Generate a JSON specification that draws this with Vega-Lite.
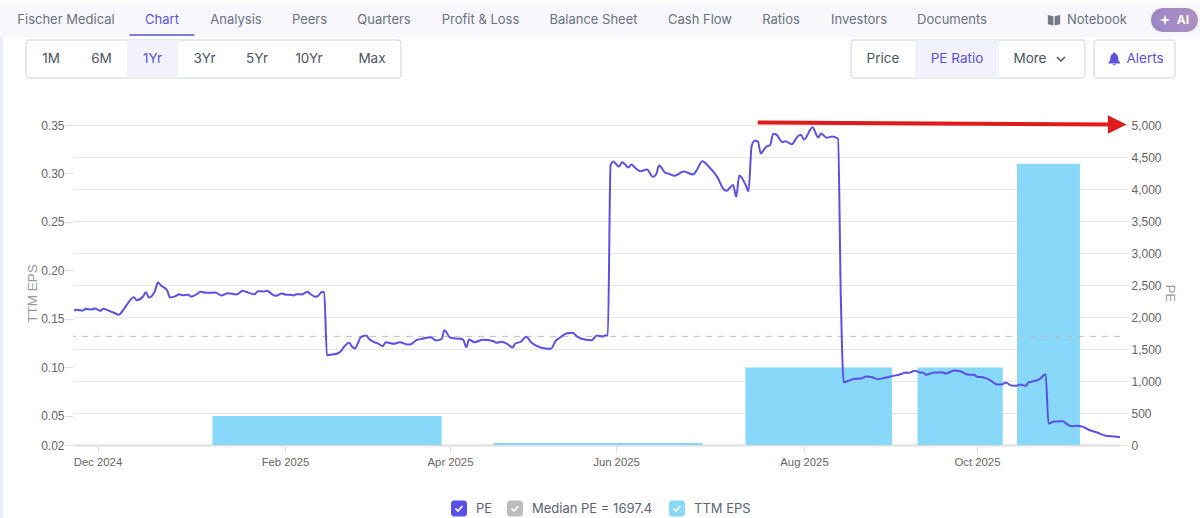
{
  "$schema": "https://vega.github.io/schema/vega-lite/v6.json",
  "width": 1047,
  "height": 320,
  "autosize": "none",
  "padding": {"left": 73, "top": 125, "right": 80, "bottom": 73},
  "background": "white",
  "config": {"view": {"stroke": null}, "text": {"font": "Inter"}},
  "datasets": {
    "pe": [
      {"date":"2024-11-23","pe":2102},{"date":"2024-11-24","pe":2112},{"date":"2024-11-26","pe":2102},{"date":"2024-11-27","pe":2128},{"date":"2024-11-29","pe":2117},{"date":"2024-11-30","pe":2133},{"date":"2024-12-02","pe":2097},{"date":"2024-12-03","pe":2128},{"date":"2024-12-05","pe":2091},{"date":"2024-12-07","pe":2055},{"date":"2024-12-08","pe":2034},{"date":"2024-12-10","pe":2144},{"date":"2024-12-13","pe":2309},{"date":"2024-12-14","pe":2263},{"date":"2024-12-16","pe":2316},{"date":"2024-12-17","pe":2388},{"date":"2024-12-18","pe":2305},{"date":"2024-12-20","pe":2409},{"date":"2024-12-21","pe":2539},{"date":"2024-12-22","pe":2492},{"date":"2024-12-24","pe":2419},{"date":"2024-12-25","pe":2305},{"date":"2024-12-27","pe":2331},{"date":"2024-12-28","pe":2356},{"date":"2024-12-29","pe":2341},{"date":"2024-12-31","pe":2347},
      {"date":"2025-01-01","pe":2320},{"date":"2025-01-03","pe":2363},{"date":"2025-01-04","pe":2394},{"date":"2025-01-06","pe":2378},{"date":"2025-01-07","pe":2378},{"date":"2025-01-09","pe":2383},{"date":"2025-01-11","pe":2336},{"date":"2025-01-13","pe":2372},{"date":"2025-01-16","pe":2352},{"date":"2025-01-18","pe":2409},{"date":"2025-01-19","pe":2394},{"date":"2025-01-22","pe":2356},{"date":"2025-01-23","pe":2403},{"date":"2025-01-25","pe":2398},{"date":"2025-01-26","pe":2409},{"date":"2025-01-28","pe":2347},{"date":"2025-01-29","pe":2331},{"date":"2025-01-31","pe":2367},
      {"date":"2025-02-01","pe":2352},{"date":"2025-02-03","pe":2347},{"date":"2025-02-04","pe":2336},{"date":"2025-02-05","pe":2356},{"date":"2025-02-07","pe":2352},{"date":"2025-02-09","pe":2394},{"date":"2025-02-10","pe":2363},{"date":"2025-02-12","pe":2316},{"date":"2025-02-13","pe":2336},{"date":"2025-02-14","pe":2388},{"date":"2025-02-15","pe":2394},{"date":"2025-02-16","pe":1403},{"date":"2025-02-18","pe":1414},{"date":"2025-02-20","pe":1434},{"date":"2025-02-21","pe":1466},{"date":"2025-02-22","pe":1528},{"date":"2025-02-24","pe":1597},{"date":"2025-02-25","pe":1534},{"date":"2025-02-26","pe":1508},{"date":"2025-02-27","pe":1581},{"date":"2025-02-28","pe":1680},
      {"date":"2025-03-02","pe":1711},{"date":"2025-03-03","pe":1659},{"date":"2025-03-05","pe":1606},{"date":"2025-03-06","pe":1591},{"date":"2025-03-08","pe":1544},{"date":"2025-03-09","pe":1606},{"date":"2025-03-12","pe":1581},{"date":"2025-03-14","pe":1606},{"date":"2025-03-17","pe":1570},{"date":"2025-03-18","pe":1575},{"date":"2025-03-20","pe":1638},{"date":"2025-03-22","pe":1659},{"date":"2025-03-25","pe":1684},{"date":"2025-03-27","pe":1633},{"date":"2025-03-29","pe":1659},{"date":"2025-03-30","pe":1794},
      {"date":"2025-04-01","pe":1680},{"date":"2025-04-03","pe":1664},{"date":"2025-04-05","pe":1659},{"date":"2025-04-06","pe":1633},{"date":"2025-04-07","pe":1528},{"date":"2025-04-08","pe":1648},{"date":"2025-04-10","pe":1606},{"date":"2025-04-13","pe":1644},{"date":"2025-04-17","pe":1622},{"date":"2025-04-18","pe":1597},{"date":"2025-04-20","pe":1613},{"date":"2025-04-22","pe":1581},{"date":"2025-04-24","pe":1523},{"date":"2025-04-25","pe":1586},{"date":"2025-04-27","pe":1613},{"date":"2025-04-29","pe":1691},
      {"date":"2025-05-01","pe":1597},{"date":"2025-05-04","pe":1528},{"date":"2025-05-06","pe":1508},{"date":"2025-05-08","pe":1503},{"date":"2025-05-10","pe":1638},{"date":"2025-05-11","pe":1664},{"date":"2025-05-14","pe":1747},{"date":"2025-05-16","pe":1753},{"date":"2025-05-18","pe":1684},{"date":"2025-05-21","pe":1644},{"date":"2025-05-23","pe":1638},{"date":"2025-05-25","pe":1711},{"date":"2025-05-27","pe":1695},{"date":"2025-05-28","pe":1711},{"date":"2025-05-29","pe":1711},{"date":"2025-05-30","pe":4367},{"date":"2025-05-31","pe":4430},
      {"date":"2025-06-01","pe":4390},{"date":"2025-06-02","pe":4352},{"date":"2025-06-03","pe":4419},{"date":"2025-06-04","pe":4383},{"date":"2025-06-05","pe":4336},{"date":"2025-06-06","pe":4383},{"date":"2025-06-07","pe":4341},{"date":"2025-06-09","pe":4278},{"date":"2025-06-11","pe":4305},{"date":"2025-06-13","pe":4191},{"date":"2025-06-14","pe":4227},{"date":"2025-06-15","pe":4367},{"date":"2025-06-17","pe":4253},{"date":"2025-06-18","pe":4242},{"date":"2025-06-20","pe":4206},{"date":"2025-06-23","pe":4273},{"date":"2025-06-26","pe":4227},{"date":"2025-06-27","pe":4278},{"date":"2025-06-29","pe":4434},
      {"date":"2025-07-01","pe":4356},{"date":"2025-07-04","pe":4175},{"date":"2025-07-06","pe":3992},{"date":"2025-07-07","pe":3972},{"date":"2025-07-08","pe":4023},{"date":"2025-07-09","pe":4063},{"date":"2025-07-10","pe":3878},{"date":"2025-07-11","pe":4211},{"date":"2025-07-13","pe":4070},{"date":"2025-07-14","pe":3966},{"date":"2025-07-15","pe":4669},{"date":"2025-07-16","pe":4753},{"date":"2025-07-17","pe":4747},{"date":"2025-07-18","pe":4555},{"date":"2025-07-19","pe":4617},{"date":"2025-07-20","pe":4669},{"date":"2025-07-21","pe":4684},{"date":"2025-07-22","pe":4863},{"date":"2025-07-23","pe":4852},{"date":"2025-07-25","pe":4731},{"date":"2025-07-26","pe":4747},{"date":"2025-07-28","pe":4700},{"date":"2025-07-30","pe":4825},{"date":"2025-07-31","pe":4847},
      {"date":"2025-08-01","pe":4773},{"date":"2025-08-04","pe":4966},{"date":"2025-08-06","pe":4805},{"date":"2025-08-07","pe":4867},{"date":"2025-08-09","pe":4800},{"date":"2025-08-11","pe":4820},{"date":"2025-08-13","pe":4784},{"date":"2025-08-14","pe":2273},{"date":"2025-08-15","pe":981},{"date":"2025-08-17","pe":1008},{"date":"2025-08-19","pe":1034},{"date":"2025-08-21","pe":1039},{"date":"2025-08-23","pe":1070},{"date":"2025-08-25","pe":1059},{"date":"2025-08-27","pe":1028},{"date":"2025-08-30","pe":1055},
      {"date":"2025-09-01","pe":1075},{"date":"2025-09-04","pe":1106},{"date":"2025-09-06","pe":1133},{"date":"2025-09-07","pe":1128},{"date":"2025-09-09","pe":1159},{"date":"2025-09-11","pe":1133},{"date":"2025-09-12","pe":1133},{"date":"2025-09-13","pe":1097},{"date":"2025-09-16","pe":1133},{"date":"2025-09-19","pe":1133},{"date":"2025-09-20","pe":1117},{"date":"2025-09-23","pe":1164},{"date":"2025-09-25","pe":1153},{"date":"2025-09-28","pe":1097},{"date":"2025-09-30","pe":1097},
      {"date":"2025-10-01","pe":1066},{"date":"2025-10-03","pe":1059},{"date":"2025-10-06","pe":1003},{"date":"2025-10-08","pe":945},{"date":"2025-10-10","pe":950},{"date":"2025-10-11","pe":977},{"date":"2025-10-13","pe":930},{"date":"2025-10-15","pe":925},{"date":"2025-10-16","pe":945},{"date":"2025-10-18","pe":925},{"date":"2025-10-19","pe":977},{"date":"2025-10-20","pe":988},{"date":"2025-10-23","pe":1034},{"date":"2025-10-25","pe":1106},{"date":"2025-10-26","pe":336},{"date":"2025-10-28","pe":367},{"date":"2025-10-31","pe":372},
      {"date":"2025-11-01","pe":341},{"date":"2025-11-03","pe":294},{"date":"2025-11-05","pe":300},{"date":"2025-11-07","pe":284},{"date":"2025-11-09","pe":238},{"date":"2025-11-12","pe":195},{"date":"2025-11-15","pe":144},{"date":"2025-11-18","pe":133},{"date":"2025-11-20","pe":122}
    ],
    "eps": [
      {"start":"2025-01-08","end":"2025-03-29","eps":0.05},
      {"start":"2025-04-17","end":"2025-06-29","eps":0.022},
      {"start":"2025-07-13","end":"2025-09-01","eps":0.10},
      {"start":"2025-09-10","end":"2025-10-10","eps":0.10},
      {"start":"2025-10-15","end":"2025-11-06","eps":0.31}
    ],
    "arrow": [
      {"date":"2025-07-17","pe":5040},
      {"date":"2025-11-17","pe":5008}
    ],
    "tabs": [
      {"label":"Fischer Medical","order":0,"state":"normal"},
      {"label":"Chart","order":1,"state":"active"},
      {"label":"Analysis","order":2,"state":"normal"},
      {"label":"Peers","order":3,"state":"normal"},
      {"label":"Quarters","order":4,"state":"normal"},
      {"label":"Profit & Loss","order":5,"state":"normal"},
      {"label":"Balance Sheet","order":6,"state":"normal"},
      {"label":"Cash Flow","order":7,"state":"normal"},
      {"label":"Ratios","order":8,"state":"normal"},
      {"label":"Investors","order":9,"state":"normal"},
      {"label":"Documents","order":10,"state":"normal"},
      {"label":"Notebook","order":12,"state":"normal"}
    ],
    "page": [
      {"part":"nav bar","from":0,"to":1,"top":0,"bottom":4},
      {"part":"left strip","from":0,"to":0.0025,"top":4,"bottom":11}
    ],
    "selectors": [
      {"part":"range","from":0,"to":7},
      {"part":"series","from":8,"to":11},
      {"part":"alerts","from":12,"to":13}
    ],
    "selected": [
      {"part":"1Yr","from":2,"to":3},
      {"part":"PE Ratio","from":9,"to":10}
    ],
    "buttons": [
      {"label":"1M","slot":0.5,"state":"normal"},
      {"label":"6M","slot":1.5,"state":"normal"},
      {"label":"1Yr","slot":2.5,"state":"active"},
      {"label":"3Yr","slot":3.5,"state":"normal"},
      {"label":"5Yr","slot":4.5,"state":"normal"},
      {"label":"10Yr","slot":5.5,"state":"normal"},
      {"label":"Max","slot":6.56,"state":"normal"},
      {"label":"Price","slot":8.5,"state":"normal"},
      {"label":"PE Ratio","slot":9.5,"state":"active"},
      {"label":"More","slot":10.36,"state":"normal"},
      {"label":"Alerts","slot":12.63,"state":"active"}
    ],
    "legend": [
      {"item":"PE","box":0,"text":1},
      {"item":"Median PE = 1697.4","box":2,"text":3},
      {"item":"TTM EPS","box":4,"text":5}
    ]
  },
  "layer": [
    {
      "data": {"name": "page"},
      "mark": {"type": "rect", "color": "#f7f7fc"},
      "encoding": {
        "x": {"field": "from", "type": "quantitative", "axis": null, "scale": {"domain": [0, 1], "range": [-73, 1127]}},
        "x2": {"field": "to"},
        "y": {"field": "top", "type": "quantitative", "axis": null, "scale": {"domain": [0,1,2,3,4,5,6,7,8,9,10,11], "range": [-122,-117,-105,-93,-88,-85,-66,-47,375,383.5,392,393]}},
        "y2": {"field": "bottom"},
        "fill": {"field": "part", "type": "nominal", "legend": null, "scale": {"domain": ["nav bar", "left strip"], "range": ["#f7f7fc", "#e8eefa"]}}
      }
    },
    {
      "data": {"name": "selectors"},
      "mark": {"type": "rect", "fill": "white", "stroke": "#cdd2da", "strokeWidth": 1, "cornerRadius": 3},
      "encoding": {
        "x": {"field": "from", "type": "quantitative", "axis": null, "scale": {"domain": [0,1,2,3,4,5,6,7,8,9,10,11,12,13], "range": [-47,3,54,105,158,210,262,328,778,842,926,1012,1021,1102]}},
        "x2": {"field": "to"},
        "y": {"datum": 5, "type": "quantitative", "axis": null, "scale": {"domain": [0,1,2,3,4,5,6,7,8,9,10,11], "range": [-122,-117,-105,-93,-88,-85,-66,-47,375,383.5,392,393]}},
        "y2": {"datum": 7}
      }
    },
    {
      "data": {"name": "selected"},
      "mark": {"type": "rect", "fill": "#f1f2fb"},
      "encoding": {
        "x": {"field": "from", "type": "quantitative", "axis": null, "scale": {"domain": [0,1,2,3,4,5,6,7,8,9,10,11,12,13], "range": [-47,3,54,105,158,210,262,328,778,842,926,1012,1021,1102]}},
        "x2": {"field": "to"},
        "y": {"datum": 5, "type": "quantitative", "axis": null, "scale": {"domain": [0,1,2,3,4,5,6,7,8,9,10,11], "range": [-122,-117,-105,-93,-88,-85,-66,-47,375,383.5,392,393]}},
        "y2": {"datum": 7}
      }
    },
    {
      "data": {"name": "buttons"},
      "mark": {"type": "text", "font": "Inter", "fontSize": 13.5, "baseline": "middle"},
      "encoding": {
        "x": {"field": "slot", "type": "quantitative", "axis": null, "scale": {"domain": [0,1,2,3,4,5,6,7,8,9,10,11,12,13], "range": [-47,3,54,105,158,210,262,328,778,842,926,1012,1021,1102]}},
        "y": {"datum": 6, "type": "quantitative", "axis": null, "scale": {"domain": [0,1,2,3,4,5,6,7,8,9,10,11], "range": [-122,-117,-105,-93,-88,-85,-66,-47,375,383.5,392,393]}},
        "text": {"field": "label"},
        "color": {"field": "state", "type": "nominal", "legend": null, "scale": {"domain": ["normal", "active"], "range": ["#4b5563", "#5b52e0"]}}
      }
    },
    {
      "data": {"values": [{"icon": "chevron", "slot": 10.72}]},
      "mark": {"type": "point", "shape": "M-0.8,-0.4 L0,0.4 L0.8,-0.4", "filled": false, "stroke": "#4b5563", "strokeWidth": 1.5, "size": 100, "opacity": 1},
      "encoding": {
        "x": {"field": "slot", "type": "quantitative", "axis": null, "scale": {"domain": [0,1,2,3,4,5,6,7,8,9,10,11,12,13], "range": [-47,3,54,105,158,210,262,328,778,842,926,1012,1021,1102]}},
        "y": {"datum": 6, "type": "quantitative", "axis": null, "scale": {"domain": [0,1,2,3,4,5,6,7,8,9,10,11], "range": [-122,-117,-105,-93,-88,-85,-66,-47,375,383.5,392,393]}}
      }
    },
    {
      "data": {"values": [{"icon": "bell", "slot": 12.25}]},
      "mark": {"type": "point", "shape": "M0,-1 C0.15,-1 0.2,-0.9 0.2,-0.8 C0.5,-0.7 0.6,-0.4 0.6,-0.1 C0.6,0.2 0.7,0.4 0.9,0.55 L0.9,0.7 L-0.9,0.7 L-0.9,0.55 C-0.7,0.4 -0.6,0.2 -0.6,-0.1 C-0.6,-0.4 -0.5,-0.7 -0.2,-0.8 C-0.2,-0.9 -0.15,-1 0,-1 Z M-0.25,0.8 L0.25,0.8 C0.2,1 -0.2,1 -0.25,0.8 Z", "filled": true, "fill": "#5b52e0", "size": 170, "opacity": 1},
      "encoding": {
        "x": {"field": "slot", "type": "quantitative", "axis": null, "scale": {"domain": [0,1,2,3,4,5,6,7,8,9,10,11,12,13], "range": [-47,3,54,105,158,210,262,328,778,842,926,1012,1021,1102]}},
        "y": {"datum": 6, "type": "quantitative", "axis": null, "scale": {"domain": [0,1,2,3,4,5,6,7,8,9,10,11], "range": [-122,-117,-105,-93,-88,-85,-66,-47,375,383.5,392,393]}}
      }
    },
    {
      "data": {"name": "tabs"},
      "mark": {"type": "text", "font": "Inter", "fontSize": 13, "baseline": "middle"},
      "encoding": {
        "x": {"field": "order", "type": "quantitative", "axis": null, "scale": {"domain": [0,1,2,3,4,5,6,7,8,9,10,11,12,13,14,15], "range": [-7,89,163,236.5,311,407.5,520.5,627,708,786,879,981,1024,1092,1101.5,1110]}},
        "y": {"datum": 2, "type": "quantitative", "axis": null, "scale": {"domain": [0,1,2,3,4,5,6,7,8,9,10,11], "range": [-122,-117,-105,-93,-88,-85,-66,-47,375,383.5,392,393]}},
        "text": {"field": "label"},
        "color": {"field": "state", "type": "nominal", "legend": null, "scale": {"domain": ["normal", "active"], "range": ["#6b7280", "#5b52e0"]}}
      }
    },
    {
      "data": {"values": [{"tab": "Chart", "order": 1}]},
      "mark": {"type": "rect", "width": 65, "height": 1.6, "color": "#5b52e0", "yOffset": -2},
      "encoding": {
        "x": {"field": "order", "type": "quantitative", "axis": null, "scale": {"domain": [0,1,2,3,4,5,6,7,8,9,10,11,12,13,14,15], "range": [-7,89,163,236.5,311,407.5,520.5,627,708,786,879,981,1024,1092,1101.5,1110]}},
        "y": {"datum": 4, "type": "quantitative", "axis": null, "scale": {"domain": [0,1,2,3,4,5,6,7,8,9,10,11], "range": [-122,-117,-105,-93,-88,-85,-66,-47,375,383.5,392,393]}}
      }
    },
    {
      "data": {"values": [{"icon": "book", "order": 11}]},
      "mark": {"type": "point", "shape": "M-1,-0.8 L-0.1,-0.6 L-0.1,0.9 L-1,0.7 Z M1,-0.8 L0.1,-0.6 L0.1,0.9 L1,0.7 Z", "filled": true, "fill": "#777b85", "size": 150, "opacity": 1},
      "encoding": {
        "x": {"field": "order", "type": "quantitative", "axis": null, "scale": {"domain": [0,1,2,3,4,5,6,7,8,9,10,11,12,13,14,15], "range": [-7,89,163,236.5,311,407.5,520.5,627,708,786,879,981,1024,1092,1101.5,1110]}},
        "y": {"datum": 2, "type": "quantitative", "axis": null, "scale": {"domain": [0,1,2,3,4,5,6,7,8,9,10,11], "range": [-122,-117,-105,-93,-88,-85,-66,-47,375,383.5,392,393]}}
      }
    },
    {
      "data": {"values": [{"part": "AI pill", "order": 14}]},
      "mark": {"type": "rect", "width": 47, "height": 24, "cornerRadius": 12, "color": {"gradient": "linear", "x1": 0, "x2": 1, "y1": 0, "y2": 0, "stops": [{"offset": 0, "color": "#9b86c6"}, {"offset": 1, "color": "#ad90bf"}]}},
      "encoding": {
        "x": {"field": "order", "type": "quantitative", "axis": null, "scale": {"domain": [0,1,2,3,4,5,6,7,8,9,10,11,12,13,14,15], "range": [-7,89,163,236.5,311,407.5,520.5,627,708,786,879,981,1024,1092,1101.5,1110]}},
        "y": {"datum": 2, "type": "quantitative", "axis": null, "scale": {"domain": [0,1,2,3,4,5,6,7,8,9,10,11], "range": [-122,-117,-105,-93,-88,-85,-66,-47,375,383.5,392,393]}}
      }
    },
    {
      "data": {"values": [{"icon": "spark", "order": 13}]},
      "mark": {"type": "point", "shape": "M0,-1 L0.25,-0.25 L1,0 L0.25,0.25 L0,1 L-0.25,0.25 L-1,0 L-0.25,-0.25 Z", "filled": true, "fill": "white", "size": 110, "opacity": 1},
      "encoding": {
        "x": {"field": "order", "type": "quantitative", "axis": null, "scale": {"domain": [0,1,2,3,4,5,6,7,8,9,10,11,12,13,14,15], "range": [-7,89,163,236.5,311,407.5,520.5,627,708,786,879,981,1024,1092,1101.5,1110]}},
        "y": {"datum": 2, "type": "quantitative", "axis": null, "scale": {"domain": [0,1,2,3,4,5,6,7,8,9,10,11], "range": [-122,-117,-105,-93,-88,-85,-66,-47,375,383.5,392,393]}}
      }
    },
    {
      "data": {"values": [{"label": "AI", "order": 15}]},
      "mark": {"type": "text", "font": "Inter", "fontSize": 12, "fontWeight": "bold", "color": "white", "baseline": "middle"},
      "encoding": {
        "x": {"field": "order", "type": "quantitative", "axis": null, "scale": {"domain": [0,1,2,3,4,5,6,7,8,9,10,11,12,13,14,15], "range": [-7,89,163,236.5,311,407.5,520.5,627,708,786,879,981,1024,1092,1101.5,1110]}},
        "y": {"datum": 2, "type": "quantitative", "axis": null, "scale": {"domain": [0,1,2,3,4,5,6,7,8,9,10,11], "range": [-122,-117,-105,-93,-88,-85,-66,-47,375,383.5,392,393]}},
        "text": {"field": "label"}
      }
    },
    {
      "data": {"name": "eps"},
      "mark": {"type": "rect", "color": "#87d8f9"},
      "encoding": {
        "x": {
          "field": "start", "type": "temporal",
          "axis": {
            "values": [{"year":2024,"month":12,"date":1},{"year":2025,"month":2,"date":1},{"year":2025,"month":4,"date":1},{"year":2025,"month":6,"date":1},{"year":2025,"month":8,"date":1},{"year":2025,"month":10,"date":1}],
            "format": "%b %Y", "title": null, "grid": false, "labelOverlap": false, "labelFlush": false,
            "labelFont": "Liberation Sans", "labelFontSize": 11.3, "labelColor": "#666666", "labelPadding": 3,
            "tickColor": "#dddddd", "tickSize": 8, "domainColor": "#dddddd", "domainWidth": 2
          },
          "scale": {
            "type": "time", "nice": false,
            "domainRaw": {"expr": "[datetime(2024,10,23),datetime(2024,11,1),datetime(2025,1,1),datetime(2025,3,1),datetime(2025,5,1),datetime(2025,7,1),datetime(2025,9,1),datetime(2025,10,20)]"},
            "range": [1, 24.5, 212, 377, 543, 731, 904, 1047]
          }
        },
        "x2": {"field": "end"},
        "y": {
          "field": "eps", "type": "quantitative",
          "axis": {
            "orient": "left", "values": [0.02,0.05,0.10,0.15,0.20,0.25,0.30,0.35], "format": ".2f", "grid": false, "domain": false,
            "title": "TTM EPS", "titleFont": "Liberation Sans", "titleFontSize": 13.5, "titleFontWeight": "normal", "titleColor": "#999999", "titleX": -34, "titleY": 168,
            "labelFont": "Liberation Sans", "labelFontSize": 12, "labelColor": "#666666", "labelPadding": 1,
            "tickColor": "#dddddd", "tickSize": 8
          },
          "scale": {"domain": [0.02, 0.35]}
        },
        "y2": {"datum": 0.02}
      }
    },
    {
      "data": {"values": [{"series": "Median PE", "pe": 1697.4}]},
      "mark": {"type": "rule", "color": "#bdbdbd", "strokeWidth": 1, "strokeDash": [6, 6]},
      "encoding": {
        "y": {
          "field": "pe", "type": "quantitative",
          "axis": {
            "orient": "right", "values": [0,500,1000,1500,2000,2500,3000,3500,4000,4500,5000], "format": ",.0f", "grid": true, "gridColor": "#e6e6e6", "domain": false,
            "title": "PE", "titleFont": "Liberation Sans", "titleFontSize": 13, "titleFontWeight": "normal", "titleColor": "#999999", "titleX": 42, "titleY": 168,
            "labelFont": "Liberation Sans", "labelFontSize": 12, "labelColor": "#666666", "labelPadding": 3,
            "tickColor": "#e0e0e0", "tickSize": 8
          },
          "scale": {"domain": [0, 5000]}
        }
      }
    },
    {
      "data": {"name": "pe"},
      "mark": {"type": "line", "color": "#5a50e6", "strokeWidth": 2, "interpolate": "monotone"},
      "encoding": {
        "x": {
          "field": "date", "type": "temporal", "axis": null,
          "scale": {
            "type": "time", "nice": false,
            "domainRaw": {"expr": "[datetime(2024,10,23),datetime(2024,11,1),datetime(2025,1,1),datetime(2025,3,1),datetime(2025,5,1),datetime(2025,7,1),datetime(2025,9,1),datetime(2025,10,20)]"},
            "range": [1, 24.5, 212, 377, 543, 731, 904, 1047]
          }
        },
        "y": {"field": "pe", "type": "quantitative", "axis": null, "scale": {"domain": [0, 5000]}}
      }
    },
    {
      "data": {"name": "arrow"},
      "mark": {"type": "line", "color": "#e01b1b", "strokeWidth": 4},
      "encoding": {
        "x": {
          "field": "date", "type": "temporal", "axis": null,
          "scale": {
            "type": "time", "nice": false,
            "domainRaw": {"expr": "[datetime(2024,10,23),datetime(2024,11,1),datetime(2025,1,1),datetime(2025,3,1),datetime(2025,5,1),datetime(2025,7,1),datetime(2025,9,1),datetime(2025,10,20)]"},
            "range": [1, 24.5, 212, 377, 543, 731, 904, 1047]
          }
        },
        "y": {"field": "pe", "type": "quantitative", "axis": null, "scale": {"domain": [0, 5000]}}
      }
    },
    {
      "data": {"values": [{"date": "2025-11-19", "pe": 5008}]},
      "mark": {"type": "point", "shape": "M-1,-1 L1,0 L-1,1 Z", "filled": true, "fill": "#e01b1b", "size": 340, "opacity": 1},
      "encoding": {
        "x": {
          "field": "date", "type": "temporal", "axis": null,
          "scale": {
            "type": "time", "nice": false,
            "domainRaw": {"expr": "[datetime(2024,10,23),datetime(2024,11,1),datetime(2025,1,1),datetime(2025,3,1),datetime(2025,5,1),datetime(2025,7,1),datetime(2025,9,1),datetime(2025,10,20)]"},
            "range": [1, 24.5, 212, 377, 543, 731, 904, 1047]
          }
        },
        "y": {"field": "pe", "type": "quantitative", "axis": null, "scale": {"domain": [0, 5000]}}
      }
    },
    {
      "data": {"name": "legend"},
      "mark": {"type": "rect", "width": 16, "height": 16, "cornerRadius": 3},
      "encoding": {
        "x": {"field": "box", "type": "quantitative", "axis": null, "scale": {"domain": [0,1,2,3,4,5], "range": [386,403,442,459,604,621]}},
        "y": {"datum": 9, "type": "quantitative", "axis": null, "scale": {"domain": [0,1,2,3,4,5,6,7,8,9,10,11], "range": [-122,-117,-105,-93,-88,-85,-66,-47,375,383.5,392,393]}},
        "fill": {"field": "item", "type": "nominal", "legend": null, "scale": {"domain": ["PE", "Median PE = 1697.4", "TTM EPS"], "range": ["#5a50e6", "#bdbdbd", "#87d8f9"]}}
      }
    },
    {
      "data": {"name": "legend"},
      "mark": {"type": "point", "shape": "M-0.7,0 L-0.2,0.5 L0.7,-0.5", "filled": false, "stroke": "white", "strokeWidth": 1.6, "size": 100, "opacity": 1},
      "encoding": {
        "x": {"field": "box", "type": "quantitative", "axis": null, "scale": {"domain": [0,1,2,3,4,5], "range": [386,403,442,459,604,621]}},
        "y": {"datum": 9, "type": "quantitative", "axis": null, "scale": {"domain": [0,1,2,3,4,5,6,7,8,9,10,11], "range": [-122,-117,-105,-93,-88,-85,-66,-47,375,383.5,392,393]}}
      }
    },
    {
      "data": {"name": "legend"},
      "mark": {"type": "text", "font": "Inter", "fontSize": 13, "align": "left", "baseline": "middle", "color": "#5b6472"},
      "encoding": {
        "x": {"field": "text", "type": "quantitative", "axis": null, "scale": {"domain": [0,1,2,3,4,5], "range": [386,403,442,459,604,621]}},
        "y": {"datum": 9, "type": "quantitative", "axis": null, "scale": {"domain": [0,1,2,3,4,5,6,7,8,9,10,11], "range": [-122,-117,-105,-93,-88,-85,-66,-47,375,383.5,392,393]}},
        "text": {"field": "item"}
      }
    }
  ],
  "resolve": {
    "scale": {"x": "independent", "y": "independent", "color": "independent", "fill": "independent"},
    "axis": {"x": "independent", "y": "independent"}
  }
}
